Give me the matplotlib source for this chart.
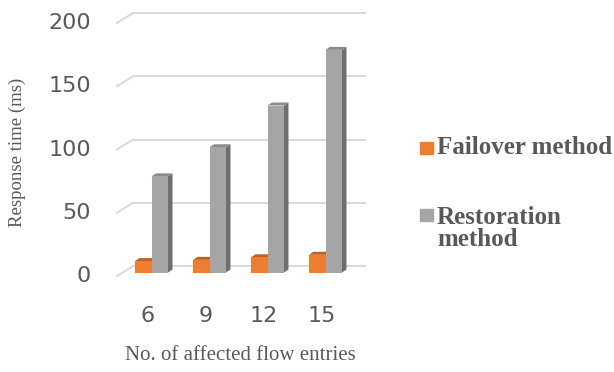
import numpy as np
import matplotlib.pyplot as plt
from matplotlib.patches import Polygon, Rectangle

categories = ['6', '9', '12', '15']
failover = [9, 10, 12, 14]
restoration = [76, 99, 132, 176]
y_ticks = [0, 50, 100, 150, 200]

W, H = 614, 372
TEXT = '#595959'
GRID = '#D9D9D9'
SERIF = 'Liberation Serif'

fig = plt.figure(figsize=(W / 100, H / 100), dpi=100)
fig.patch.set_facecolor('white')
ax = fig.add_axes([122.5 / W, 99.5 / H, 232 / W, 253 / H])
ax.set_xlim(-0.5, 3.5)
ax.set_ylim(0, 200)
ax.axis('off')

# size of one pixel in data units, used for the fake 3d depth
px = 4 / 232
py = 200 / 253

bw = 16.5 * px          # width of one bar front
dx, dy = 4.5 * px, 3 * py  # bar depth


def draw_bar(x0, h, front, top, side):
    """Column with a front, a top and a right side face"""
    faces = [
        ([(x0 + bw, 0), (x0 + bw + dx, dy), (x0 + bw + dx, h + dy), (x0 + bw, h)], side),
        ([(x0, h), (x0 + bw, h), (x0 + bw + dx, h + dy), (x0 + dx, h + dy)], top),
        ([(x0, 0), (x0 + bw, 0), (x0 + bw, h), (x0, h)], front),
    ]
    for pts, c in faces:
        ax.add_patch(Polygon(pts, closed=True, facecolor=c, edgecolor='none',
                             clip_on=False, zorder=3))


# back wall gridlines with the slanted floor edge on the left
for v in y_ticks:
    back = v + 6.5 * py
    frontv = v - 3.5 * py
    ax.plot([-18.5 * px, 213.5 * px], [back, back], color=GRID, lw=1.4,
            clip_on=False, zorder=1)
    ax.plot([-34.5 * px, -18.5 * px], [frontv, back], color=GRID, lw=1.4,
            clip_on=False, zorder=1)
    ax.text(-60.5 * px, frontv, str(v), ha='right', va='center',
            fontsize=16, color=TEXT, family='DejaVu Sans')

for i, (f, r) in enumerate(zip(failover, restoration)):
    draw_bar(i - bw, f, '#ED7D31', '#C0601E', '#B0561A')
    draw_bar(i, r, '#A5A5A5', '#8C8C8C', '#6E6E6E')
    ax.text(i - 4 * px, -43.5 * py, categories[i], ha='center', va='center',
            fontsize=16, color=TEXT, family='DejaVu Sans')

fig.text(17 / W, 1 - 152 / H, 'Response time (ms)', rotation=90,
         ha='center', va='center', fontsize=13.5, color=TEXT, family=SERIF)
fig.text(240 / W, 1 - 355 / H, 'No. of affected flow entries',
         ha='center', va='center', fontsize=15, color=TEXT, family=SERIF)

# legend
fig.add_artist(Rectangle((420 / W, 1 - 154 / H), 13 / W, 12 / H,
                         transform=fig.transFigure, color='#ED7D31'))
fig.add_artist(Rectangle((420 / W, 1 - 221 / H), 13 / W, 12 / H,
                         transform=fig.transFigure, color='#A5A5A5'))
fig.text(437 / W, 1 - 148 / H, 'Failover method', ha='left', va='center',
         fontsize=18, fontweight='bold', color=TEXT, family=SERIF)
fig.text(437 / W, 1 - 228.5 / H, 'Restoration\nmethod', ha='left',
         va='center', linespacing=1.0, fontsize=18, fontweight='bold',
         color=TEXT, family=SERIF)

fig.savefig('out.png', dpi=100)
